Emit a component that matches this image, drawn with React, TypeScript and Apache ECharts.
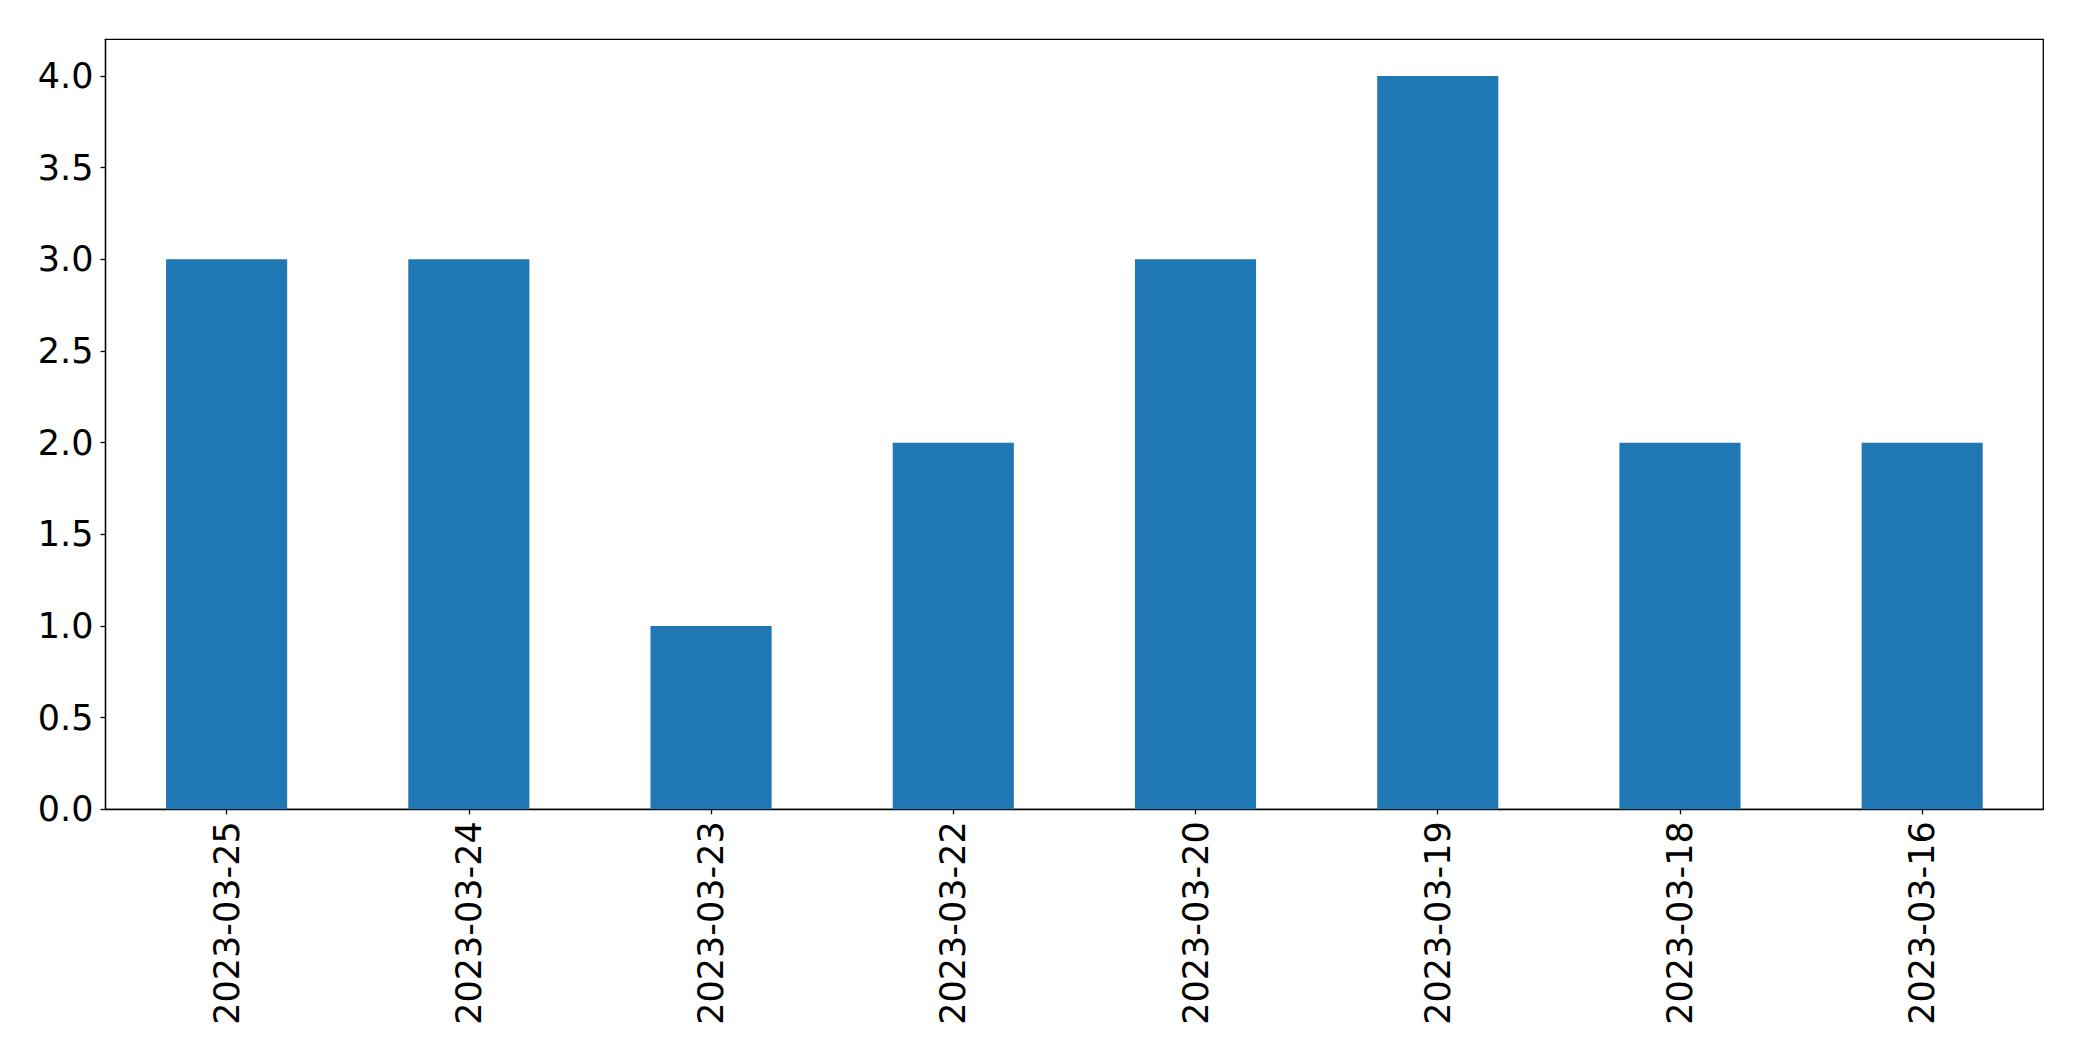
import React, { useEffect, useRef } from "react";
import * as echarts from "echarts";

const categories = [
  "2023-03-25",
  "2023-03-24",
  "2023-03-23",
  "2023-03-22",
  "2023-03-20",
  "2023-03-19",
  "2023-03-18",
  "2023-03-16",
];
const values = [3, 3, 1, 2, 3, 4, 2, 2];

const FONT = "DejaVu Sans";

export default function App() {
  const ref = useRef<HTMLDivElement>(null);
  useEffect(() => {
    document.body.style.margin = "0";
    const chart = echarts.init(ref.current!, null, { renderer: "svg" });
    chart.setOption({
      animation: false,
      backgroundColor: "#ffffff",
      grid: {
        left: 105.5,
        top: 39.3,
        right: 38.7,
        bottom: 251.7,
        show: true,
        borderColor: "#000000",
        borderWidth: 1.3,
        backgroundColor: "transparent",
        containLabel: false,
      },
      xAxis: {
        type: "category",
        data: categories,
        boundaryGap: true,
        axisLine: { show: true, lineStyle: { color: "#000000", width: 1.3 } },
        axisTick: {
          show: true,
          alignWithLabel: true,
          length: 5,
          lineStyle: { color: "#000000", width: 1.3 },
        },
        axisLabel: {
          rotate: 90,
          margin: 12,
          color: "#000000",
          fontSize: 35,
          fontFamily: FONT,
          interval: 0,
        },
        splitLine: { show: false },
      },
      yAxis: {
        type: "value",
        min: 0,
        max: 4.2,
        interval: 0.5,
        axisLine: { show: true, lineStyle: { color: "#000000", width: 1.3 } },
        axisTick: {
          show: true,
          length: 5,
          lineStyle: { color: "#000000", width: 1.3 },
        },
        axisLabel: {
          margin: 12,
          color: "#000000",
          fontSize: 35,
          fontFamily: FONT,
          formatter: (v: number) =>
            Math.abs(v / 0.5 - Math.round(v / 0.5)) < 1e-6 ? v.toFixed(1) : "",
          showMaxLabel: false,
        },
        splitLine: { show: false },
      },
      series: [
        {
          type: "bar",
          data: values,
          barWidth: "50%",
          itemStyle: { color: "#1f77b4" },
        },
      ],
    });
    return () => chart.dispose();
  }, []);
  return (
    <div
      ref={ref}
      style={{ position: "fixed", left: 0, top: 0, width: 2082, height: 1061 }}
    />
  );
}
